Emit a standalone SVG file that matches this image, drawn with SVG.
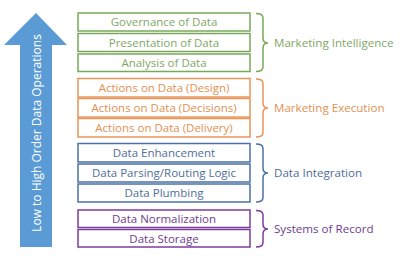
<svg xmlns="http://www.w3.org/2000/svg" width="400" height="260" viewBox="0 0 400 260">
<style>
text{font-family:"Open Sans","DejaVu Sans",sans-serif;}
.box{fill:#fff;stroke-width:1.5;}
.bt{font-size:11.5px;text-anchor:middle;}
.lbl{font-size:11.6px;}
.br{fill:none;stroke-width:1.5;}
.g .box,.g .br{stroke:#78a95a;} .g text{fill:#7fa866;}
.o .box,.o .br{stroke:#e8955a;} .o text{fill:#e39053;}
.b .box,.b .br{stroke:#4a72a6;} .b text{fill:#4f6e9a;}
.p .box,.p .br{stroke:#7d3c9c;} .p text{fill:#6e3d8e;}
</style>
<rect width="400" height="260" fill="#fff"/>
<g id="arrow">
<polygon points="36,13 67,45 52,45 52,247 20,247 20,45 4,45" fill="#5b9bd5"/>
<text transform="translate(40.5,133) rotate(-90)" text-anchor="middle" fill="#fff" style="font-size:12px">Low to High Order Data Operations</text>
</g>
<g id="marketing-intelligence" class="g">
<g id="governance"><rect class="box" x="78" y="13" width="172" height="18"/><text class="bt" x="164" y="26">Governance of Data</text></g>
<g id="presentation"><rect class="box" x="78" y="33.5" width="172" height="18"/><text class="bt" x="164" y="46.5">Presentation of Data</text></g>
<g id="analysis"><rect class="box" x="78" y="54" width="172" height="17.5"/><text class="bt" x="164" y="67">Analysis of Data</text></g>
</g>
<g id="marketing-execution" class="o">
<g id="design"><rect class="box" x="78" y="78.5" width="172" height="18.5"/><text class="bt" x="164" y="92">Actions on Data (Design)</text></g>
<g id="decisions"><rect class="box" x="78" y="98.5" width="172" height="18.5"/><text class="bt" x="164" y="112">Actions on Data (Decisions)</text></g>
<g id="delivery"><rect class="box" x="78" y="118.5" width="172" height="18.5"/><text class="bt" x="164" y="132">Actions on Data (Delivery)</text></g>
</g>
<g id="data-integration" class="b">
<g id="enhancement"><rect class="box" x="78" y="143.5" width="172" height="18.5"/><text class="bt" x="164" y="157">Data Enhancement</text></g>
<g id="parsing"><rect class="box" x="78" y="164" width="172" height="18"/><text class="bt" x="164" y="177">Data Parsing/Routing Logic</text></g>
<g id="plumbing"><rect class="box" x="78" y="184" width="172" height="18"/><text class="bt" x="164" y="197">Data Plumbing</text></g>
</g>
<g id="systems-of-record" class="p">
<g id="normalization"><rect class="box" x="78" y="210" width="172" height="17.5"/><text class="bt" x="164" y="223">Data Normalization</text></g>
<g id="storage"><rect class="box" x="78" y="229.5" width="172" height="17.5"/><text class="bt" x="164" y="243">Data Storage</text></g>
</g>
<g id="connectors">
<g class="g"><path class="br" d="M256,13.5 Q263,13.5 263,18 V38 Q263,43 268,43 Q263,43 263,48 V67 Q263,71.5 256,71.5"/><text class="lbl" x="274" y="47">Marketing Intelligence</text></g>
<g class="o"><path class="br" d="M256,79 Q263,79 263,83.5 V103 Q263,108 268,108 Q263,108 263,113 V132.5 Q263,137 256,137"/><text class="lbl" x="274" y="112">Marketing Execution</text></g>
<g class="b"><path class="br" d="M256,144 Q263,144 263,148.5 V168 Q263,173 268,173 Q263,173 263,178 V197.5 Q263,202 256,202"/><text class="lbl" x="274" y="177">Data Integration</text></g>
<g class="p"><path class="br" d="M256,210.5 Q263,210.5 263,215 V224 Q263,229 268,229 Q263,229 263,234 V242.5 Q263,247 256,247"/><text class="lbl" x="274" y="233">Systems of Record</text></g>
</g>
</svg>
